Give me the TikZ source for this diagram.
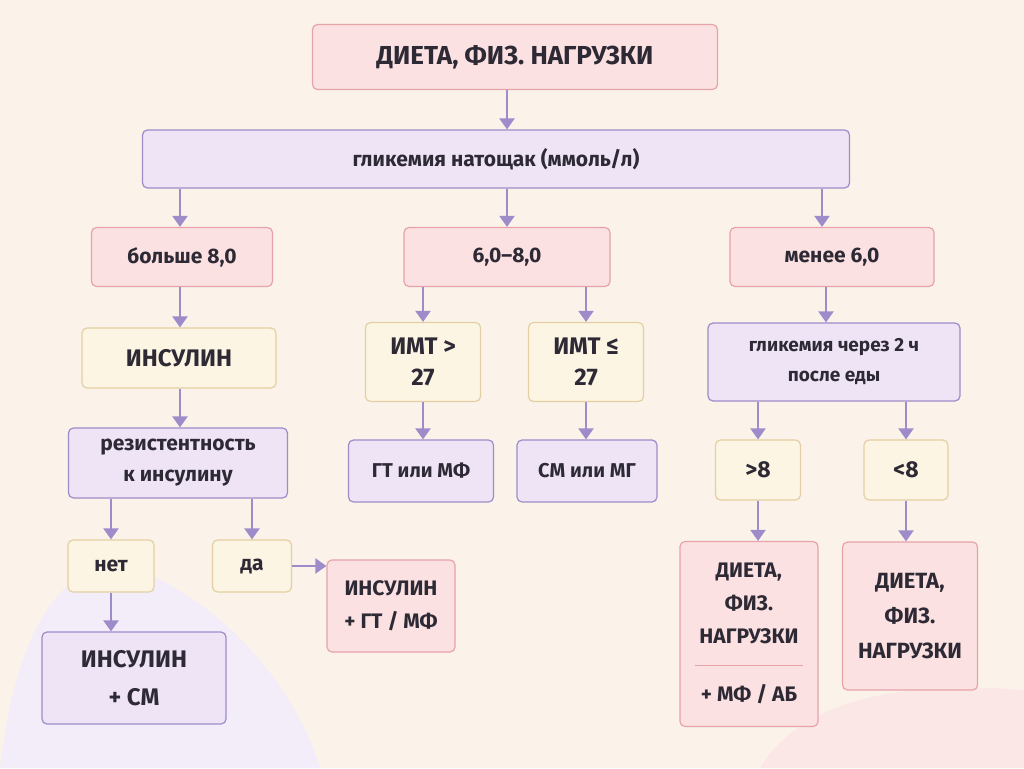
\documentclass[tikz,border=0pt]{standalone}
\usepackage{fontspec}
\setmainfont{Fira Sans}
\usetikzlibrary{arrows.meta}
\definecolor{bg}{HTML}{FBF3EA}
\definecolor{pkf}{HTML}{FBE1E1}\definecolor{pkd}{HTML}{E6A3AA}
\definecolor{puf}{HTML}{EEE4F6}\definecolor{pud}{HTML}{9E8BC9}
\definecolor{yef}{HTML}{FDF5E3}\definecolor{yed}{HTML}{E3CFA3}
\definecolor{txt}{HTML}{2E2A35}
\begin{document}
\begin{tikzpicture}[x=1pt,y=-1pt,
 box/.style={draw,line width=1.2pt,rounded corners=5pt,align=center,text=txt,font=\fontsize{21}{26}\selectfont\bfseries,inner sep=0pt},
 pk/.style={box,fill=pkf,draw=pkd},
 pu/.style={box,fill=puf,draw=pud},
 ye/.style={box,fill=yef,draw=yed},
 ar/.style={draw=pud,line width=2.2pt,-{Triangle[length=11pt,width=15pt]}}]
\useasboundingbox (0,0) rectangle (1024,768);
\fill[bg] (0,0) rectangle (1024,768);
\fill[puf!70] (0,768) .. controls (20,600) and (80,540) .. (160,580) .. controls (240,620) and (300,700) .. (320,768) -- cycle;
\fill[pkf!80] (760,768) .. controls (800,700) and (900,680) .. (1024,690) -- (1024,768) -- cycle;
\node[pk,minimum width=405pt,minimum height=65pt,font=\fontsize{26}{30}\selectfont\bfseries] (top) at (515,57) {ДИЕТА, ФИЗ. НАГРУЗКИ};
\node[pu,minimum width=707pt,minimum height=58pt] (gly) at (496,159) {гликемия натощак (ммоль/л)};
\node[pk,minimum width=181pt,minimum height=59pt] (b8) at (182,257) {больше 8,0};
\node[pk,minimum width=206pt,minimum height=59pt] (mid) at (507,257) {6,0–8,0};
\node[pk,minimum width=204pt,minimum height=59pt] (l6) at (832,257) {менее 6,0};
\node[ye,minimum width=194pt,minimum height=60pt,font=\fontsize{24}{28}\selectfont\bfseries] (ins) at (179,358) {ИНСУЛИН};
\node[ye,minimum width=115pt,minimum height=79pt,font=\fontsize{24}{31}\selectfont\bfseries] (i1) at (423,362) {ИМТ >\\27};
\node[ye,minimum width=115pt,minimum height=79pt,font=\fontsize{24}{31}\selectfont\bfseries] (i2) at (586,362) {ИМТ ≤\\27};
\node[pu,minimum width=252pt,minimum height=78pt,font=\fontsize{19}{30}\selectfont\bfseries] (g2) at (834,362) {гликемия через 2 ч\\после еды};
\node[pu,minimum width=219pt,minimum height=70pt,font=\fontsize{21}{31}\selectfont\bfseries] (res) at (178,463) {резистентность\\к инсулину};
\node[pu,minimum width=145pt,minimum height=62pt,font=\fontsize{20}{24}\selectfont\bfseries] (gt) at (421,471) {ГТ или МФ};
\node[pu,minimum width=140pt,minimum height=62pt,font=\fontsize{20}{24}\selectfont\bfseries] (sm) at (587,471) {СМ или МГ};
\node[ye,minimum width=85pt,minimum height=60pt,font=\fontsize{23}{26}\selectfont\bfseries] (g8) at (758,470) {>8};
\node[ye,minimum width=84pt,minimum height=60pt,font=\fontsize{23}{26}\selectfont\bfseries] (l8) at (906,470) {<8};
\node[ye,minimum width=86pt,minimum height=52pt] (net) at (111,566) {нет};
\node[ye,minimum width=79pt,minimum height=52pt] (da) at (252,566) {да};
\node[pk,minimum width=128pt,minimum height=92pt,font=\fontsize{21}{33}\selectfont\bfseries] (igt) at (391,606) {ИНСУЛИН\\+ ГТ / МФ};
\node[pu,minimum width=184pt,minimum height=92pt,font=\fontsize{24}{38}\selectfont\bfseries] (ism) at (134,678) {ИНСУЛИН\\+ СМ};
\node[pk,minimum width=138pt,minimum height=185pt] (d1) at (749,634) {};
\node[align=center,text=txt,font=\fontsize{21}{33}\selectfont\bfseries] at (749,603) {ДИЕТА,\\ФИЗ.\\НАГРУЗКИ};
\draw[pkd,line width=0.8pt] (695,665) -- (803,665);
\node[text=txt,font=\fontsize{21}{26}\selectfont\bfseries] at (749,694) {+ МФ / АБ};
\node[pk,minimum width=135pt,minimum height=148pt,font=\fontsize{22}{35}\selectfont\bfseries] (d2) at (910,616) {ДИЕТА,\\ФИЗ.\\НАГРУЗКИ};
\draw[ar] (top.south -| 507,0) -- (gly.north -| 507,0);
\draw[ar] (gly.south -| 180,0) -- (b8.north -| 180,0);
\draw[ar] (gly.south -| 507,0) -- (mid.north -| 507,0);
\draw[ar] (gly.south -| 822,0) -- (l6.north -| 822,0);
\draw[ar] (b8.south -| 180,0) -- (ins.north -| 180,0);
\draw[ar] (mid.south -| 423,0) -- (i1.north -| 423,0);
\draw[ar] (mid.south -| 586,0) -- (i2.north -| 586,0);
\draw[ar] (l6.south -| 826,0) -- (g2.north -| 826,0);
\draw[ar] (ins.south -| 180,0) -- (res.north -| 180,0);
\draw[ar] (i1.south -| 423,0) -- (gt.north -| 423,0);
\draw[ar] (i2.south -| 586,0) -- (sm.north -| 586,0);
\draw[ar] (g2.south -| g8) -- (g8);
\draw[ar] (g2.south -| l8) -- (l8);
\draw[ar] (res.south -| net) -- (net);
\draw[ar] (res.south -| da) -- (da);
\draw[ar] (net) -- (net |- ism.north);
\draw[ar] (da) -- (igt.west |- da);
\draw[ar] (g8) -- (g8 |- d1.north);
\draw[ar] (l8) -- (l8 |- d2.north);
\end{tikzpicture}
\end{document}
